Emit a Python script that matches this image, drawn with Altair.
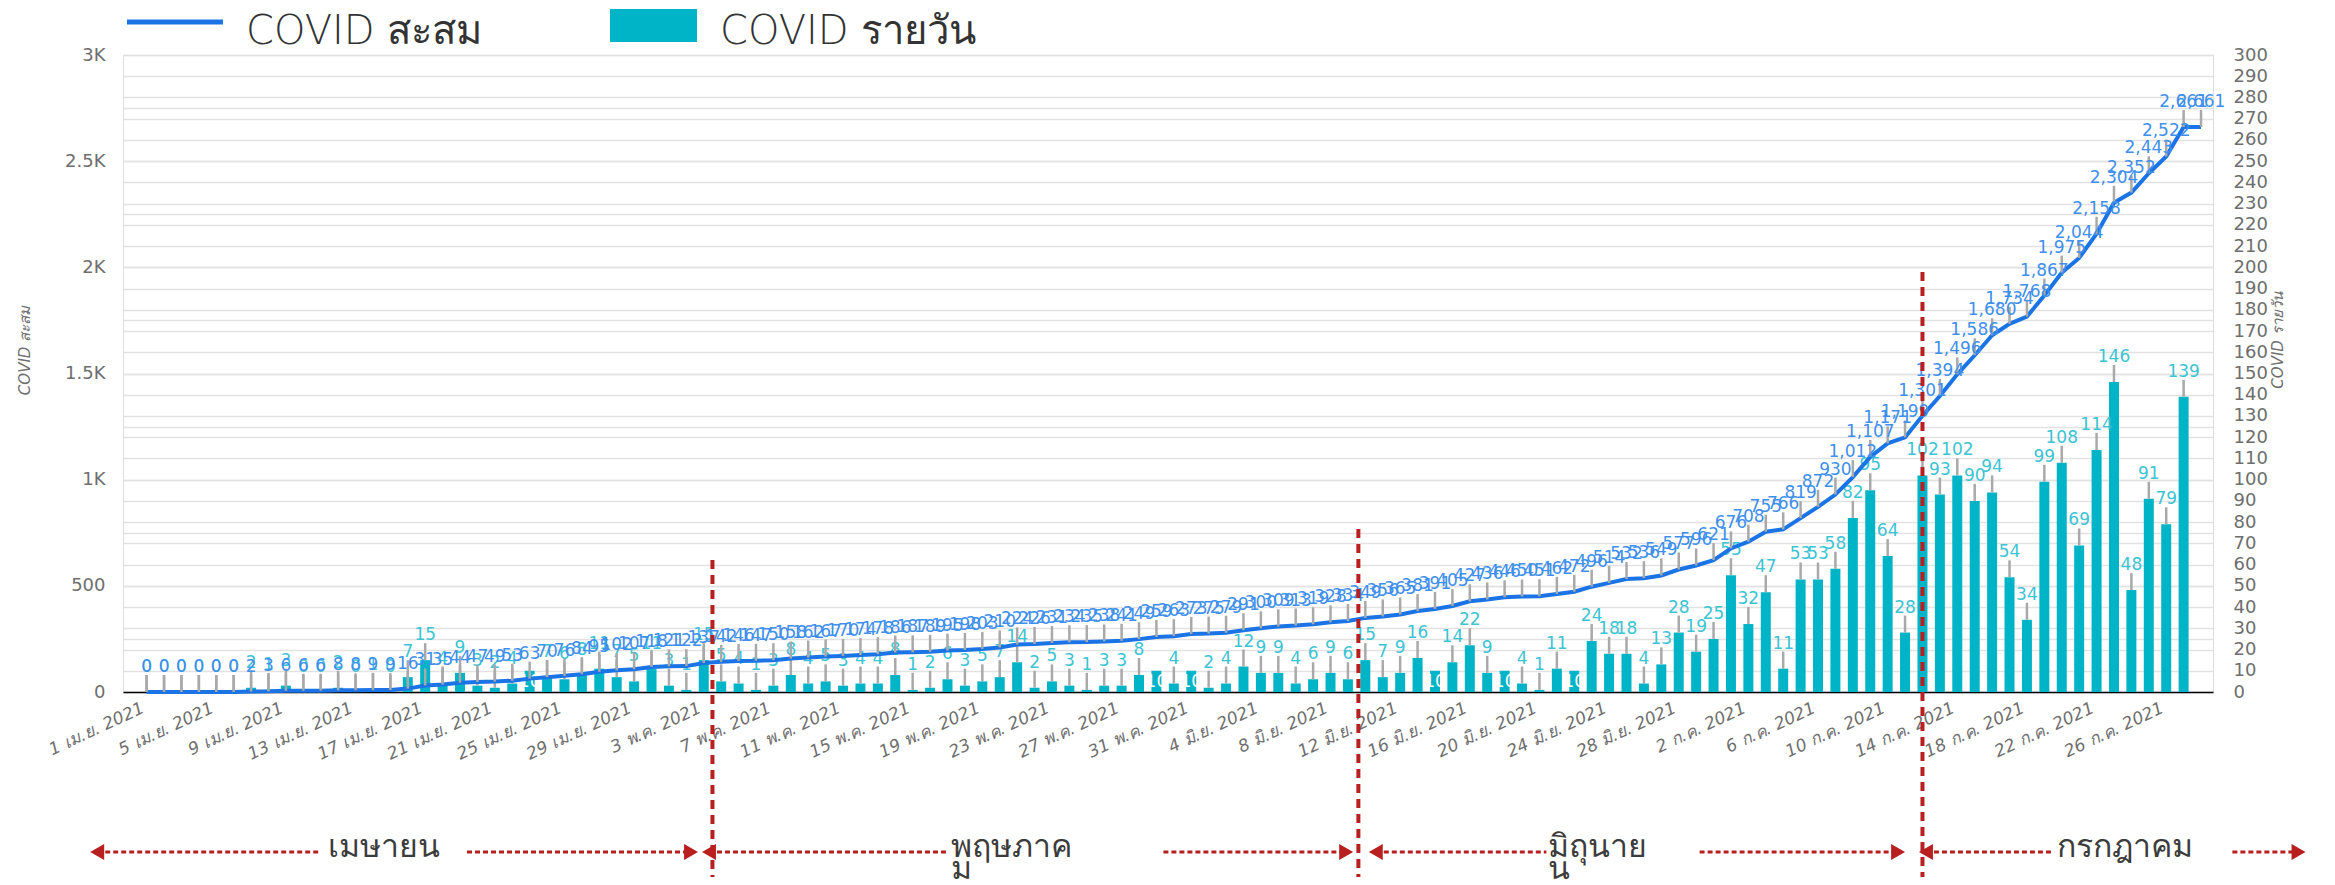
import altair as alt
import pandas as pd

# ---------------- data ----------------
# day index 0 = 1 Apr 2021 ... 118 = 28 Jul 2021
daily = [0, 0, 0, 0, 0, 0, 2, 1, 3, 0,
         0, 2, 0, 1, 0, 7, 15, 4, 9, 3,
         2, 4, 10, 7, 6, 8, 11, 7, 5, 11,
         3, 1, 15, 5, 4, 1, 3, 8, 4, 5,
         3, 4, 4, 8, 1, 2, 6, 3, 5, 7,
         14, 2, 5, 3, 1, 3, 3, 8, 10, 4,
         10, 2, 4, 12, 9, 9, 4, 6, 9, 6,
         15, 7, 9, 16, 10, 14, 22, 9, 10, 4,
         1, 11, 10, 24, 18, 18, 4, 13, 28, 19,
         25, 55, 32, 47, 11, 53, 53, 58, 82, 95,
         64, 28, 102, 93, 102, 90, 94, 54, 34, 99,
         108, 69, 114, 146, 48, 91, 79, 139, None]

cumulative = [0, 0, 0, 0, 0, 0, 2, 3, 6, 6,
              6, 8, 8, 9, 9, 16, 31, 35, 44, 47,
              49, 53, 63, 70, 76, 84, 95, 102, 107, 118,
              121, 122, 137, 142, 146, 147, 150, 158, 162, 167,
              170, 174, 178, 186, 187, 189, 195, 198, 203, 210,
              224, 226, 231, 234, 235, 238, 241, 249, 259, 263,
              273, 275, 279, 291, 300, 309, 313, 319, 328, 334,
              349, 356, 365, 381, 391, 405, 427, 436, 446, 450,
              451, 462, 472, 496, 514, 532, 536, 549, 577, 596,
              621, 676, 708, 755, 766, 819, 872, 930, 1012, 1107,
              1171, 1199, 1301, 1394, 1496, 1586, 1680, 1734, 1768, 1867,
              1975, 2044, 2158, 2304, 2352, 2443, 2522, 2661, 2661]

tick_days = list(range(0, 117, 4))
tick_labels = ["1 เม.ย. 2021", "5 เม.ย. 2021", "9 เม.ย. 2021", "13 เม.ย. 2021",
               "17 เม.ย. 2021", "21 เม.ย. 2021", "25 เม.ย. 2021", "29 เม.ย. 2021",
               "3 พ.ค. 2021", "7 พ.ค. 2021", "11 พ.ค. 2021", "15 พ.ค. 2021",
               "19 พ.ค. 2021", "23 พ.ค. 2021", "27 พ.ค. 2021", "31 พ.ค. 2021",
               "4 มิ.ย. 2021", "8 มิ.ย. 2021", "12 มิ.ย. 2021", "16 มิ.ย. 2021",
               "20 มิ.ย. 2021", "24 มิ.ย. 2021", "28 มิ.ย. 2021", "2 ก.ค. 2021",
               "6 ก.ค. 2021", "10 ก.ค. 2021", "14 ก.ค. 2021", "18 ก.ค. 2021",
               "22 ก.ค. 2021", "26 ก.ค. 2021"]

series_names = ["COVID สะสม", "COVID รายวัน"]
month_names = ["เมษายน", "พฤษภาค\nม", "มิถุนาย\nน", "กรกฎาคม"]

# ---------------- layout / style ----------------
W, H = 2090, 637
CYAN = "#00b4c8"
CYAN_LBL = "#3cc3d4"
BLUE = "#1b74e6"
BLUE_LBL = "#3f8fec"
GRAY = "#a9a9a9"
RED = "#b81f1f"
GRID = "#e2e2e2"
AXIS_TXT = "#6e6e6e"
FONT = "DejaVu Sans"

divider_days = [32.5, 69.6, 102.0]
divider_tops = [505, 474, 217]
divider_bottom = 822

# month arrows: (start, gap_start, gap_end, end, text_left) in day units
month_spans = [(-2.84, 10.0, 18.4, 31.27, 10.4),
               (32.3, 46.0, 58.4, 68.9, 46.2),
               (70.6, 80.4, 89.2, 100.6, 80.5),
               (102.2, 109.5, 119.8, 123.6, 109.7)]
ARROW_Y = 797

df = pd.DataFrame({"day": list(range(len(cumulative))),
                   "daily": daily,
                   "cum": cumulative})

labels_js = "[" + ",".join("'" + s + "'" for s in tick_labels) + "]"

x_scale = alt.Scale(domain=[-1.07, 118.4], nice=False, zero=False)
x_axis = alt.Axis(values=tick_days, labelExpr=labels_js + "[round(datum.value / 4)]",
                  labelAngle=335, labelAlign="right", labelBaseline="middle",
                  labelFont=FONT, labelFontSize=17, labelFontStyle="italic",
                  labelColor=AXIS_TXT, labelPadding=15, labelOffset=-4,
                  ticks=False, grid=False,
                  domainColor="#000000", domainWidth=1.5, title=None,
                  labelOverlap=False, labelBound=False, labelFlush=False)
X = alt.X("day:Q", scale=x_scale, axis=x_axis)

left_axis = alt.Axis(orient="left", values=list(range(0, 3001, 250)),
                     labelExpr="datum.value % 500 == 0 ? (datum.value >= 1000 ? (datum.value / 1000) + 'K' : datum.value + '') : ''",
                     labelFont=FONT, labelFontSize=18, labelColor=AXIS_TXT, labelPadding=18,
                     ticks=False, domain=False, grid=True, gridColor=GRID, gridWidth=1.5,
                     title=series_names[0], titleFont=FONT, titleFontSize=15,
                     titleFontStyle="italic", titleFontWeight="normal", titleColor=AXIS_TXT,
                     titlePadding=32, titleY=295)
right_axis = alt.Axis(orient="right", values=list(range(0, 301, 10)),
                      labelFont=FONT, labelFontSize=18, labelColor=AXIS_TXT, labelPadding=20,
                      ticks=False, domain=False, grid=True, gridColor=GRID, gridWidth=1.5,
                      title=series_names[1], titleFont=FONT, titleFontSize=15,
                      titleFontStyle="italic", titleFontWeight="normal", titleColor=AXIS_TXT,
                      titleAngle=270, titlePadding=18, titleY=285)

Y_daily = alt.Y("daily:Q", scale=alt.Scale(domain=[0, 300], nice=False), axis=right_axis)
Y_cum = alt.Y("cum:Q", scale=alt.Scale(domain=[0, 3000], nice=False), axis=left_axis)

base = alt.Chart(df)
has_daily = "datum.daily != null"

bars = base.transform_filter(has_daily).mark_bar(width=10, color=CYAN).encode(x=X, y=Y_daily)
d_lead = base.transform_filter(has_daily + " && datum.daily != 10").mark_rule(
    color=GRAY, strokeWidth=2.5, y2Offset=-17).encode(x=X, y=Y_daily, y2=alt.Y2("daily"))
d_text = base.transform_filter(has_daily + " && datum.daily != 10").mark_text(
    dy=-20, baseline="alphabetic", font=FONT, fontSize=17, color=CYAN_LBL).encode(
    x=X, y=Y_daily, text=alt.Text("daily:Q", format="d"))
d_in = base.transform_filter("datum.daily == 10").mark_text(
    dy=11, baseline="middle", font=FONT, fontSize=17, color="white").encode(
    x=X, y=Y_daily, text=alt.Text("daily:Q", format="d"))
daily_layer = alt.layer(bars, d_lead, d_text, d_in)

line = base.mark_line(color=BLUE, strokeWidth=4).encode(x=X, y=Y_cum)
c_lead = base.mark_rule(color=GRAY, strokeWidth=2.5, y2Offset=-17).encode(
    x=X, y=Y_cum, y2=alt.Y2("cum"))
c_text = base.mark_text(dy=-20, baseline="alphabetic", font=FONT, fontSize=17,
                        color=BLUE_LBL).encode(x=X, y=Y_cum, text=alt.Text("cum:Q", format=",d"))
cum_layer = alt.layer(line, c_lead, c_text)

# ---------- decorations (same x scale/axis object everywhere) ----------
deco = []
for d, top in zip(divider_days, divider_tops):
    deco.append(alt.Chart(pd.DataFrame({"day": [d]})).mark_rule(
        color=RED, strokeWidth=4, strokeDash=[9, 6]).encode(
        x=X, y=alt.value(top), y2=alt.value(divider_bottom)))

for name, (s, g1, g2, e, tx) in zip(month_names, month_spans):
    seg = pd.DataFrame({"day": [s, g2], "day2": [g1, e]})
    deco.append(alt.Chart(seg).mark_rule(color=RED, strokeWidth=3, strokeDash=[5, 3]).encode(
        x=X, x2=alt.X2("day2"), y=alt.value(ARROW_Y)))
    deco.append(alt.Chart(pd.DataFrame({"day": [s]})).mark_point(
        shape="triangle-left", filled=True, size=260, color=RED, opacity=1).encode(
        x=X, y=alt.value(ARROW_Y)))
    deco.append(alt.Chart(pd.DataFrame({"day": [e]})).mark_point(
        shape="triangle-right", filled=True, size=260, color=RED, opacity=1).encode(
        x=X, y=alt.value(ARROW_Y)))
    deco.append(alt.Chart(pd.DataFrame({"day": [tx], "t": [name]})).mark_text(
        align="left", baseline="alphabetic", fontSize=32, color="#3c3c3c",
        lineBreak="\n", lineHeight=22).encode(
        x=X, y=alt.value(ARROW_Y + 5), text="t:N"))

# ---------- manual legend ----------
one = pd.DataFrame({"t": [series_names[0]]})
two = pd.DataFrame({"t": [series_names[1]]})
leg = [
    alt.Chart(one).mark_rule(color=BLUE, strokeWidth=5).encode(
        x=alt.value(4), x2=alt.value(100), y=alt.value(-33)),
    alt.Chart(one).mark_text(align="left", baseline="alphabetic", font=FONT, fontSize=40,
                             fontWeight=300, color="#333333").encode(
        x=alt.value(123), y=alt.value(-11), text="t:N"),
    alt.Chart(two).mark_rect(color=CYAN).encode(
        x=alt.value(487), x2=alt.value(574), y=alt.value(-46), y2=alt.value(-13)),
    alt.Chart(two).mark_text(align="left", baseline="alphabetic", font=FONT, fontSize=40,
                             fontWeight=300, color="#333333").encode(
        x=alt.value(597), y=alt.value(-11), text="t:N"),
]

chart = alt.layer(daily_layer, cum_layer, *deco, *leg).resolve_scale(
    y="independent").properties(
    width=W, height=H,
    autosize=alt.AutoSizeParams(type="none"),
    padding={"left": 115, "top": 47, "right": 114, "bottom": 194},
).configure_view(stroke=None).configure(font=FONT)

chart.save("out.html", embed_options={"renderer": "svg", "actions": False})
